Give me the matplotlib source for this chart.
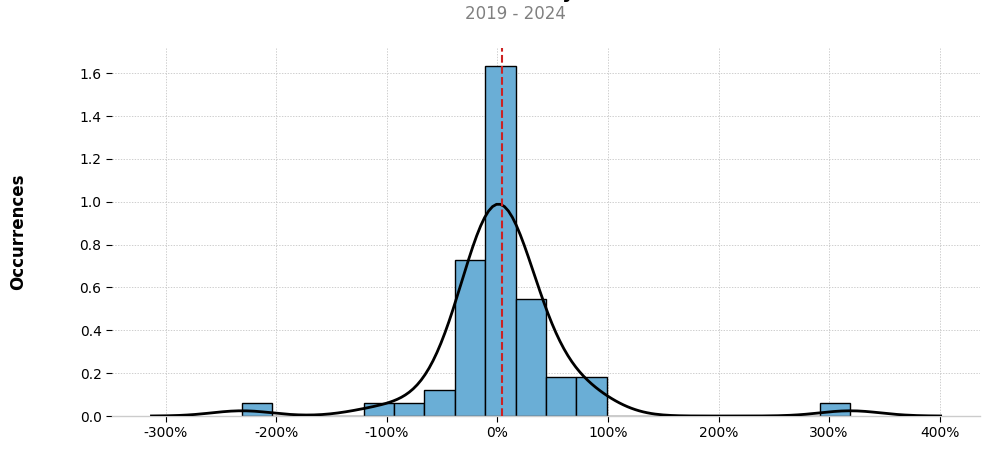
import matplotlib
matplotlib.use("Agg")
import matplotlib.pyplot as plt
import seaborn as sns
import numpy as np
from matplotlib.ticker import FuncFormatter

# Monthly returns (fraction), estimated from the histogram
returns_neg_tail = [-2.31, -1.12, -0.82, -0.58, -0.45]
returns_bin_low = [-0.37, -0.34, -0.31, -0.28, -0.25, -0.22, -0.20, -0.18,
                   -0.16, -0.14, -0.13, -0.12]
returns_core = [-0.09, -0.08, -0.06, -0.05, -0.05, -0.04, -0.03, -0.02, -0.02,
                -0.01, 0.00, 0.01, 0.01, 0.02, 0.03, 0.03, 0.04, 0.05, 0.06,
                0.06, 0.07, 0.08, 0.09, 0.10, 0.11, 0.13, 0.15]
returns_bin_high = [0.18, 0.21, 0.24, 0.26, 0.29, 0.31, 0.34, 0.37, 0.41]
returns_pos_tail = [0.48, 0.56, 0.65, 0.76, 0.84, 0.93, 3.19]

returns = np.array(returns_neg_tail + returns_bin_low + returns_core +
                   returns_bin_high + returns_pos_tail)

title = "Distribution of Monthly Returns"
subtitle = "2019 - 2024"
ylabel = "Occurrences"

fig = plt.figure(figsize=(9.94, 4.55), dpi=100)
ax = fig.add_axes([0.1127, 0.0857, 0.986 - 0.1127, 0.8945 - 0.0857])

sns.histplot(returns, bins=20, stat="density", color="#6aaed6", alpha=1,
             edgecolor="black", linewidth=1, ax=ax, zorder=2)
sns.kdeplot(x=returns, color="black", lw=2, ax=ax, zorder=3)
ax.axvline(returns.mean(), color="#cc2222", ls="--", lw=1.5, zorder=4)

ax.set_xticks(np.arange(-3, 4.01, 1))
ax.xaxis.set_major_formatter(FuncFormatter(lambda v, p: f"{v*100:.0f}%"))
ax.set_yticks(np.arange(0, 1.61, 0.2))
ax.yaxis.set_major_formatter(FuncFormatter(lambda v, p: f"{v:.1f}"))
ax.tick_params(labelsize=10, length=4, colors="black")

ax.grid(True, ls=(0, (2, 2)), lw=0.5, color="#bbbbbb", zorder=0)
ax.set_axisbelow(True)
for s in ["top", "right", "left"]:
    ax.spines[s].set_visible(False)
ax.spines["bottom"].set_color("#cccccc")
ax.spines["bottom"].set_linewidth(1)

ax.set_ylabel(ylabel, fontsize=12, fontweight="bold", labelpad=38)
ax.set_xlabel("")

fig.text(0.497, 1 + 1.5 / 455, title, ha="center", va="baseline", fontsize=14,
         fontweight="bold")
fig.text(0.519, 1 - 19 / 455, subtitle, ha="center", va="baseline",
         fontsize=12, color="gray")

fig.savefig("out.png", dpi=100)
